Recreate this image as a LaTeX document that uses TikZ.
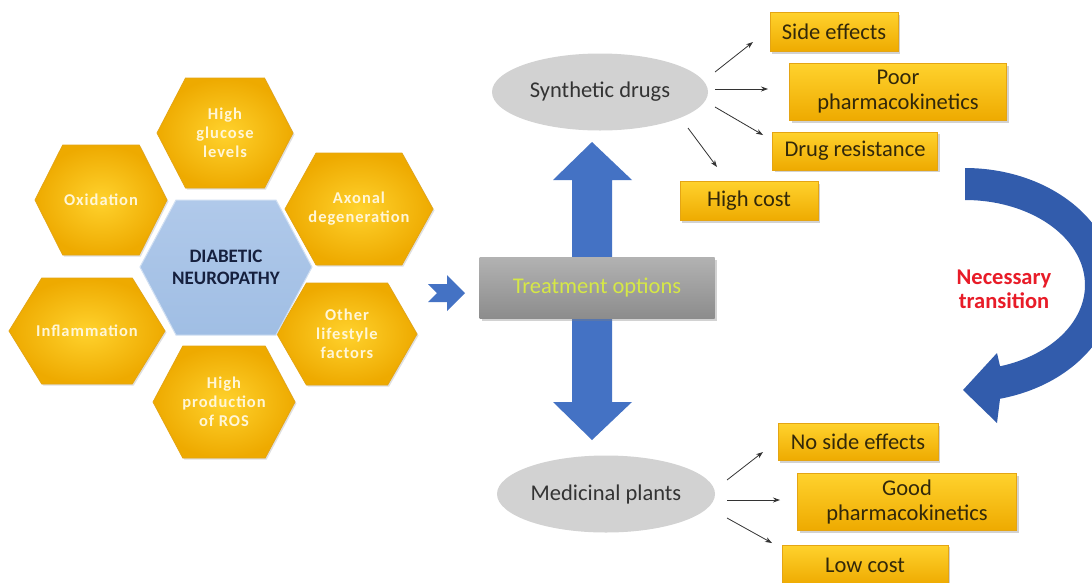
\documentclass[tikz,border=0pt]{standalone}
\usepackage{fontspec}
\setmainfont{Carlito}
\usetikzlibrary{shapes.geometric,shadows,arrows.meta}
\definecolor{goldlight}{RGB}{255,210,45}
\definecolor{golddark}{RGB}{238,170,0}
\definecolor{goldedge}{RGB}{228,165,20}
\definecolor{hextext}{RGB}{255,246,215}
\definecolor{hexbluel}{RGB}{176,201,234}
\definecolor{hexblued}{RGB}{160,190,228}
\definecolor{navy}{RGB}{22,32,62}
\definecolor{arrowblue}{RGB}{68,114,196}
\definecolor{curveblue}{RGB}{50,92,172}
\definecolor{ellgray}{RGB}{210,210,210}
\definecolor{boxgrayl}{RGB}{178,178,178}
\definecolor{boxgrayd}{RGB}{140,140,140}
\definecolor{optyellow}{RGB}{214,232,70}
\definecolor{transred}{RGB}{232,28,40}
\definecolor{boxtext}{RGB}{50,40,10}
\newcommand\bxfont{\fontsize{22.5}{25}\selectfont}
\newcommand\hxfont{\fontsize{16.5}{19}\selectfont\bfseries\addfontfeature{LetterSpace=6}}
\newcommand\myhex[7]{%
  \path[#6] ({#2-#4},#3) -- ({#2-0.58*#4},{#3-#5}) -- ({#2+0.58*#4},{#3-#5})
    -- ({#2+#4},#3) -- ({#2+0.58*#4},{#3+#5}) -- ({#2-0.58*#4},{#3+#5}) -- cycle;
  \node[hexlabel] (#1) at (#2,#3) {#7};
}
\begin{document}
\begin{tikzpicture}[x=1pt,y=-1pt,
  hexfill/.style={inner color=goldlight, outer color=golddark, draw=goldedge, line width=0.8,
    drop shadow={shadow xshift=1.5pt,shadow yshift=-1.5pt,opacity=0.25}},
  hexcenter/.style={top color=hexbluel, bottom color=hexblued, draw=hexbluel!60!white, line width=1},
  hexlabel/.style={text=hextext, align=center, font=\hxfont, inner sep=0pt},
  ybox/.style={rectangle, top color=goldlight, bottom color=golddark, draw=goldedge, line width=0.6,
    drop shadow={shadow xshift=2pt,shadow yshift=-2pt,opacity=0.35},
    align=center, font=\bxfont, text=boxtext, inner sep=0pt},
  ell/.style={ellipse, fill=ellgray, font=\bxfont, text=black!80, inner sep=0pt},
  sm/.style={-{Stealth[length=7pt,width=5pt]}, line width=0.8, draw=black!80},
]
\useasboundingbox (0,0) rectangle (1092,582);
\fill[white] (0,0) rectangle (1092,582);

% ---------- hexagon cluster ----------
\myhex{hg}{225}{133}{68}{55}{hexfill}{High\\glucose\\levels}
\myhex{ox}{101}{200}{66}{55}{hexfill}{Oxidation}
\myhex{ax}{359}{209}{74}{56}{hexfill}{Axonal\\degeneration}
\myhex{inf}{87}{331}{78}{53}{hexfill}{Inflammation}
\myhex{ol}{347}{334}{70}{51}{hexfill}{Other\\lifestyle\\factors}
\myhex{ros}{224}{402}{71}{56}{hexfill}{High\\production\\of ROS}
\path[hexcenter] (140,267) -- (176,200) -- (276,200) -- (312,267) -- (276,335) -- (176,335) -- cycle;
\node[align=center, font=\fontsize{19}{22}\selectfont\bfseries, text=navy] (dn) at (226,267) {DIABETIC\\NEUROPATHY};

% ---------- chevron ----------
\fill[arrowblue] (428,284) -- (447,284) -- (447,275) -- (465,293) -- (447,311) -- (447,302)
  -- (428,302) -- (437,293) -- cycle;

% ---------- vertical double arrow ----------
\fill[arrowblue] (592,142) -- (632,180) -- (612,180) -- (612,402) -- (632,402) -- (592,440)
  -- (553,402) -- (572,402) -- (572,180) -- (553,180) -- cycle;

% ---------- treatment options ----------
\node[rectangle, top color=boxgrayl, bottom color=boxgrayd, minimum width=235pt, minimum height=61pt,
  drop shadow={shadow xshift=2pt,shadow yshift=-2pt,opacity=0.35}, font=\bxfont, text=optyellow]
  (tr) at (597,288) {Treatment options};

% ---------- ellipses ----------
\node[ell, minimum width=216pt, minimum height=77pt] (sd) at (600,92) {Synthetic drugs};
\node[ell, minimum width=218pt, minimum height=77pt] (mp) at (606,494) {Medicinal plants};

% ---------- boxes ----------
\node[ybox, minimum width=128pt, minimum height=39pt] (se) at (834,32) {Side effects};
\node[ybox, minimum width=217pt, minimum height=57pt] (pp) at (898,92) {Poor\\pharmacokinetics};
\node[ybox, minimum width=165pt, minimum height=38pt] (dr) at (855,151) {Drug resistance};
\node[ybox, minimum width=138pt, minimum height=39pt] (hc) at (749,201) {High cost};
\node[ybox, minimum width=160pt, minimum height=37pt] (nse) at (858,442) {No side effects};
\node[ybox, minimum width=219pt, minimum height=57pt] (gp) at (907,502) {Good\\pharmacokinetics};
\node[ybox, minimum width=166pt, minimum height=40pt] (lc) at (865,565) {Low cost};

% ---------- small arrows ----------
\coordinate (a1s) at (715,72);  \coordinate (a1e) at (753,42);
\coordinate (a2s) at (715,89);  \coordinate (a2e) at (768,89);
\coordinate (a3s) at (715,107); \coordinate (a3e) at (763,135);
\coordinate (a4s) at (688,128); \coordinate (a4e) at (717,167);
\coordinate (b1s) at (727,480); \coordinate (b1e) at (763,452);
\coordinate (b2s) at (727,500); \coordinate (b2e) at (780,500);
\coordinate (b3s) at (727,518); \coordinate (b3e) at (772,543);
\foreach \p in {a1,a2,a3,a4,b1,b2,b3} \draw[sm] (\p s) -- (\p e);

% ---------- curved transition arrow ----------
\fill[curveblue] (965,168)
  -- plot[domain=90:-76.5, samples=60, smooth] ({965+150*cos(\x)},{285-117*sin(\x)})
  -- (997,423) -- (963,390) -- (997,353) -- (1000,366)
  -- plot[domain=-73:90, samples=60, smooth] ({965+120*cos(\x)},{285-85*sin(\x)})
  -- cycle;
\node[align=center, font=\fontsize{22.5}{24}\selectfont\bfseries, text=transred] (nt) at (1004,289)
  {Necessary\\transition};
\end{tikzpicture}
\end{document}
